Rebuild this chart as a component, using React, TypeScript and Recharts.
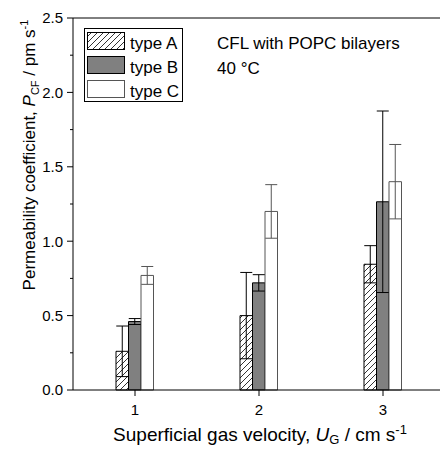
import { BarChart, Bar, XAxis, YAxis, ErrorBar, ReferenceLine, Legend, Label } from "recharts";

const velocities = ["1", "2", "3"];
const typeA = [0.26, 0.5, 0.845];
const typeB = [0.46, 0.72, 1.265];
const typeC = [0.77, 1.2, 1.4];
const typeAErr = [0.17, 0.29, 0.125];
const typeBErr = [0.02, 0.055, 0.61];
const typeCErr = [0.06, 0.18, 0.25];
const yTicks = [0, 0.25, 0.5, 0.75, 1, 1.25, 1.5, 1.75, 2, 2.25, 2.5];
const seriesNames = ["type A", "type B", "type C"];

const data = velocities.map((u, i) => ({
  u,
  A: typeA[i],
  B: typeB[i],
  C: typeC[i],
  Aerr: typeAErr[i],
  Berr: typeBErr[i],
  Cerr: typeCErr[i],
}));

const FONT = "'Liberation Sans', Arial, sans-serif";
const AXIS_X = 73;

const YTick = (props: any) => {
  const { y, payload } = props;
  const v = payload.value;
  const major = Math.abs(v * 2 - Math.round(v * 2)) < 1e-6;
  return (
    <g>
      <line x1={AXIS_X - (major ? 6 : 3)} x2={AXIS_X} y1={y} y2={y} stroke="#000" />
      {major && (
        <text x={AXIS_X - 10} y={y} dy="0.36em" textAnchor="end" fontSize={15} fontFamily={FONT} fill="#000">
          {v.toFixed(1)}
        </text>
      )}
    </g>
  );
};

const XTitle = () => (
  <text x={260} y={441} textAnchor="middle" fontSize={19} fontFamily={FONT} fill="#000">
    Superficial gas velocity, <tspan fontStyle="italic">U</tspan>
    <tspan fontSize={13} dy={3}>G</tspan>
    <tspan dy={-3}> / cm s</tspan>
    <tspan fontSize={13} dy={-7}>-1</tspan>
  </text>
);

const YTitle = () => (
  <text
    x={35}
    y={155}
    transform="rotate(-90, 35, 155)"
    textAnchor="middle"
    fontSize={17}
    fontFamily={FONT}
    fill="#000"
  >
    Permeability coefficient, <tspan fontStyle="italic">P</tspan>
    <tspan fontSize={11} dy={4}>CF</tspan>
    <tspan dy={-4}> / pm s</tspan>
    <tspan fontSize={11} dy={-7}>-1</tspan>
  </text>
);

const swatchFill = ["url(#hatch)", "#808080", "#fff"];
const swatchStroke = ["#000", "#000", "#555"];

const LegendBox = () => (
  <svg width={100} height={75} style={{ display: "block" }}>
    <rect x={0.5} y={0.5} width={98} height={73} fill="#fff" stroke="#000" />
    {seriesNames.map((name, i) => (
      <g key={name}>
        <rect x={3.5} y={4.5 + i * 24} width={37} height={17} fill={swatchFill[i]} stroke={swatchStroke[i]} />
        <text x={46} y={21 + i * 24} fontSize={17} fontFamily={FONT} fill="#000">
          {name}
        </text>
      </g>
    ))}
  </svg>
);

export default function App() {
  return (
    <div style={{ position: "absolute", left: 0, top: 0, width: 440, height: 449, overflow: "hidden", background: "#fff" }}>
      <svg width={0} height={0} style={{ position: "absolute" }}>
        <defs>
          <pattern id="hatch" patternUnits="userSpaceOnUse" width={6} height={6}>
            <path d="M0,6 L6,0 M-1.5,1.5 L1.5,-1.5 M4.5,7.5 L7.5,4.5" stroke="#000" strokeWidth={0.8} />
          </pattern>
        </defs>
      </svg>
      <BarChart
        width={460}
        height={449}
        data={data}
        margin={{ top: 18, right: 15, left: 0, bottom: 0 }}
        barSize={12.5}
        barGap={0}
      >
        <XAxis
          dataKey="u"
          height={59}
          tickSize={6}
          tickMargin={8}
          stroke="#000"
          tick={{ fill: "#000", fontSize: 15, fontFamily: FONT }}
        >
          <Label content={XTitle} />
        </XAxis>
        <YAxis
          width={73}
          domain={[0, 2.5]}
          ticks={yTicks}
          interval={0}
          tickLine={false}
          stroke="#000"
          tick={YTick}
        >
          <Label content={YTitle} />
        </YAxis>
        <ReferenceLine y={2.5} stroke="#000" />
        <Legend
          layout="horizontal"
          verticalAlign="middle"
          align="center"
          content={LegendBox}
          wrapperStyle={{ position: "absolute", left: 84, top: 28, width: 100, height: 75 }}
        />
        <Bar dataKey="A" name="type A" fill="url(#hatch)" stroke="#000" isAnimationActive={false}>
          <ErrorBar dataKey="Aerr" width={6} stroke="#000" strokeWidth={1} isAnimationActive={false} />
        </Bar>
        <Bar dataKey="B" name="type B" fill="#808080" stroke="#000" isAnimationActive={false}>
          <ErrorBar dataKey="Berr" width={6} stroke="#000" strokeWidth={1} isAnimationActive={false} />
        </Bar>
        <Bar dataKey="C" name="type C" fill="#fff" stroke="#555" isAnimationActive={false}>
          <ErrorBar dataKey="Cerr" width={6} stroke="#555" strokeWidth={1} isAnimationActive={false} />
        </Bar>
      </BarChart>
      <div style={{ position: "absolute", left: 217, top: 32, fontFamily: FONT, fontSize: 17, lineHeight: "24.5px", color: "#000" }}>
        <div>CFL with POPC bilayers</div>
        <div>40 °C</div>
      </div>
    </div>
  );
}
